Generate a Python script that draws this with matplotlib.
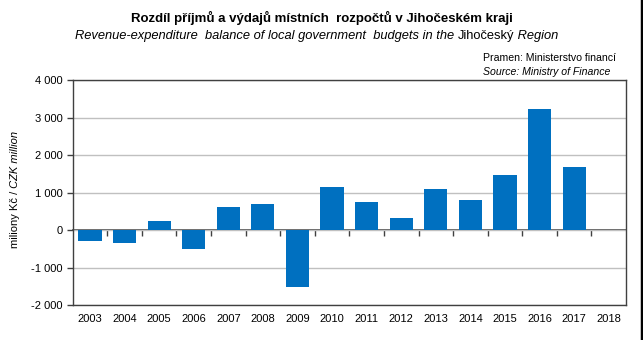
import numpy as np
import matplotlib
matplotlib.use('Agg')
import matplotlib.pyplot as plt
from matplotlib.lines import Line2D

plt.rcParams['font.family'] = ['Liberation Sans', 'DejaVu Sans']

years = [str(y) for y in range(2003, 2019)]
balance = [-300, -350, 250, -490, 630, 700, -1500, 1150, 750, 330, 1100, 810, 1470, 3230, 1690, np.nan]
yticks = [-2000, -1000, 0, 1000, 2000, 3000, 4000]
ytick_labels = ['-2 000', '-1 000', '0', '1 000', '2 000', '3 000', '4 000']

W, H = 643, 340
fig = plt.figure(figsize=(W / 100, H / 100), dpi=100)
ax = fig.add_axes([72.7 / W, 1 - 305.3 / H, (626 - 72.7) / W, (305.3 - 80) / H])

x = np.arange(len(years))
ax.bar(x, balance, width=0.67, color='#0070c0', zorder=3)

ax.set_xlim(-0.5, len(years) - 0.5)
ax.set_ylim(-2000, 4000)
ax.set_yticks(yticks)
ax.set_yticklabels(ytick_labels, fontsize=8)
ax.yaxis.grid(True, color='#c0c0c0', linewidth=1)
ax.set_axisbelow(True)
ax.tick_params(axis='y', length=4, width=1, color='#404040', pad=3)

ax.set_xticks(x)
ax.set_xticklabels(years, fontsize=8)
ax.tick_params(axis='x', length=0, pad=6)

for s in ax.spines.values():
    s.set_color('#404040')
    s.set_linewidth(1)

# zero axis with category boundary ticks
sec = ax.secondary_xaxis(1 / 3)
sec.set_xticks(x[:-1] + 0.5)
sec.set_xticklabels([])
sec.tick_params(axis='x', length=4, width=1, color='#404040', direction='out')
sec.spines['bottom'].set_color('#404040')
sec.spines['bottom'].set_linewidth(1.2)
sec.spines['bottom'].set_zorder(4)

# titles
fig.text(322 / W, 1 - 18 / H, 'Rozdíl příjmů a výdajů místních  rozpočtů v Jihočeském kraji',
         ha='center', va='center', fontsize=9.5, fontweight='bold')
t1 = fig.text(75 / W, 1 - 36 / H, 'Revenue-expenditure  balance of local government  budgets in the ',
              ha='left', va='center', fontsize=9.25, style='italic')
t2 = fig.text(0, 0, 'Jihočeský', fontsize=9.25, va='center', ha='left')
t3 = fig.text(0, 0, ' Region', fontsize=9.25, va='center', ha='left', style='italic')

fig.text(483 / W, 1 - 58 / H, 'Pramen: Ministerstvo financí', ha='left', va='center', fontsize=7.6)
fig.text(483 / W, 1 - 72 / H, 'Source: Ministry of Finance', ha='left', va='center', fontsize=7.6,
         style='italic')

# y label pieces
y1 = fig.text(15 / W, 1 - 248 / H, 'miliony Kč /', rotation=90, ha='center', va='bottom', fontsize=8)
y2 = fig.text(0, 0, ' CZK million', rotation=90, ha='center', va='bottom', fontsize=8, style='italic')

fig.canvas.draw()
r = fig.canvas.get_renderer()
b1 = t1.get_window_extent(r)
t2.set_position((b1.x1 / W, 1 - 36 / H))
b2 = t2.get_window_extent(r)
t3.set_position((b2.x1 / W, 1 - 36 / H))
by = y1.get_window_extent(r)
y2.set_position((15 / W, by.y1 / H))

# figure right border
fig.add_artist(Line2D([1 - 1.5 / W, 1 - 1.5 / W], [0, 1], transform=fig.transFigure,
                      color='black', linewidth=2.5))

fig.savefig('out.png', dpi=100)
